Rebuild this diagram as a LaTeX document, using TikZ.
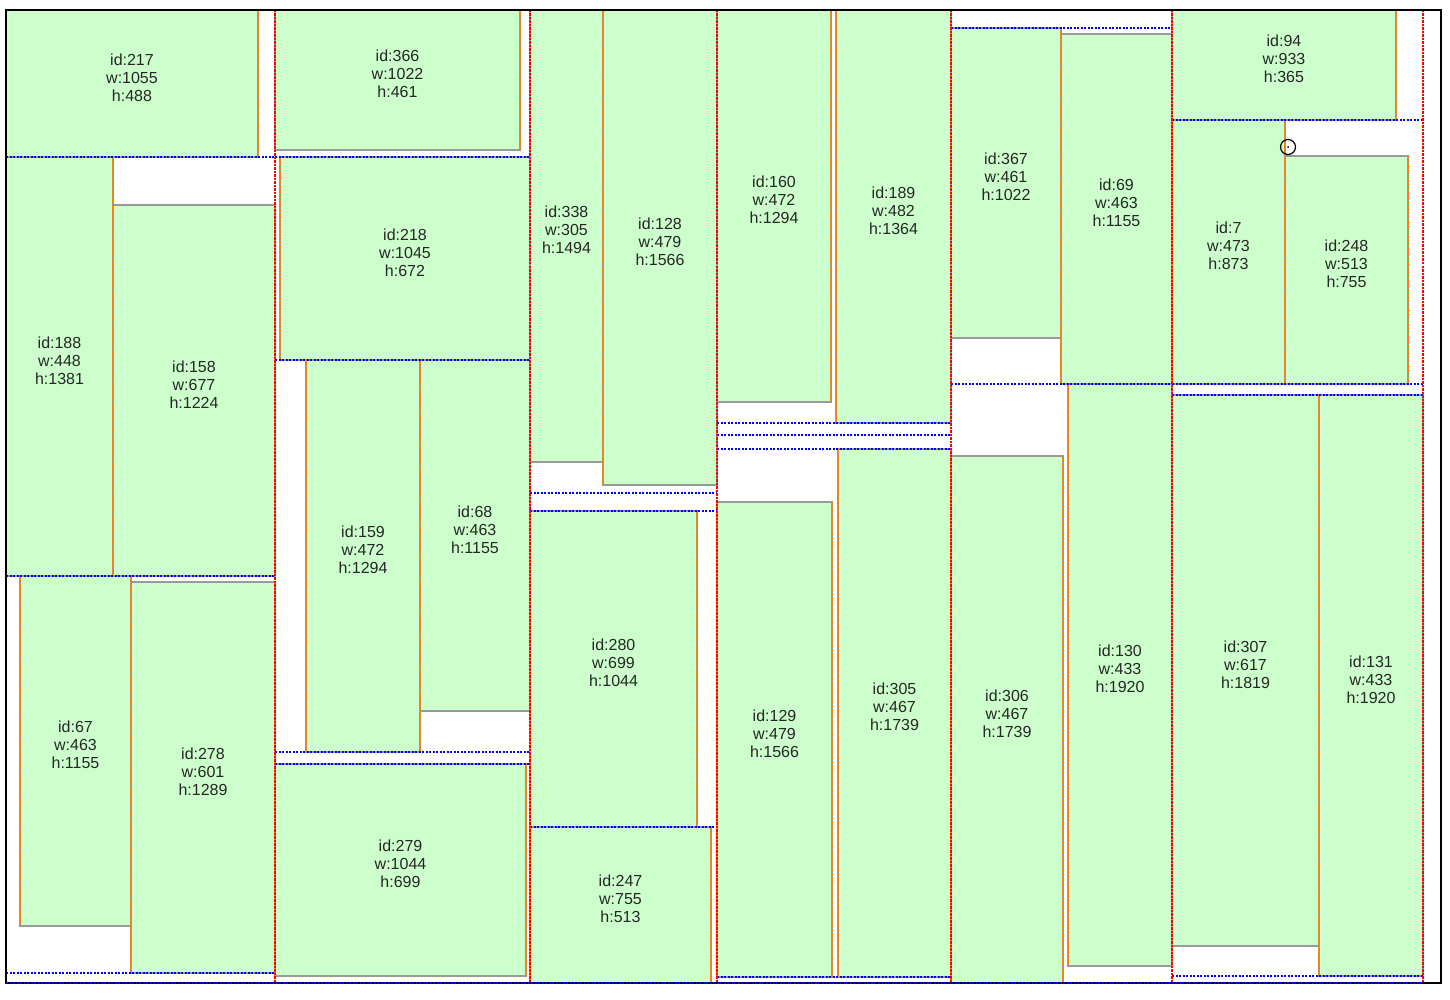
\documentclass[tikz,border=0pt]{standalone}
\usepackage{fontspec}
\setmainfont{Liberation Sans}
\definecolor{piecegreen}{RGB}{204,255,204}

\begin{document}
\begin{tikzpicture}[x=1pt, y=-1pt,
    piece/.style={fill=piecegreen, draw=black!40, line width=2pt},
    side/.style={draw=orange, line width=1.4pt, dash pattern=on 2.5pt off 1pt},
    cut/.style={draw=blue, line width=2.4pt, dash pattern=on 2pt off 1.5pt},
    strip/.style={draw=red, line width=1.8pt, dash pattern=on 2.5pt off 1pt},
    tag/.style={font=\fontsize{16}{18}\selectfont, align=center, text=black!85}]
    \useasboundingbox (0,0) rectangle (1450,1000);
    \fill[white] (0,0) rectangle (1450,1000);

    % Pieces
    \foreach \xa/\ya/\xb/\yb/\n/\w/\h in {
        6/10/258/157/217/1055/488, 6/157/113/576/188/448/1381,
        113/205/275/576/158/677/1224, 20/576/131/926/67/463/1155,
        131/582/275/973/278/601/1289,
        275/10/520/150/366/1022/461, 280/157/530/360/218/1045/672,
        306/360/420/752/159/472/1294, 420/360/530/711/68/463/1155,
        275/764/526/976/279/1044/699,
        530/10/603/462/338/305/1494, 603/10/717/485/128/479/1566,
        530/511/697/827/280/699/1044, 530/827/711/983/247/755/513,
        717/10/831/402/160/472/1294, 836/10/951/423/189/482/1364,
        717/502/832/977/129/479/1566, 838/449/951/977/305/467/1739,
        951/28/1061/338/367/461/1022, 1061/34/1172/384/69/463/1155,
        951/456/1063/983/306/467/1739, 1068/384/1172/966/130/433/1920,
        1172/10/1396/120/94/933/365, 1172/120/1285/384/7/473/873,
        1285/156/1408/384/248/513/755, 1172/395/1319/946/307/617/1819,
        1319/395/1423/976/131/433/1920}{
        \draw[piece] (\xa,\ya) rectangle (\xb,\yb);
        \draw[side] (\xa,\ya) -- (\xa,\yb) (\xb,\ya) -- (\xb,\yb);
        \node[tag] (p\n) at ({(\xa+\xb)/2},{(\ya+\yb)/2-6}) {id:\n\\w:\w\\h:\h};
    }

    % Cuts
    \foreach \xa/\xb/\y in {6/275/157, 6/275/576, 6/275/973,
        275/530/157, 275/530/360, 275/530/752, 275/530/764,
        530/717/493, 530/717/511, 530/717/827,
        717/951/423, 717/951/435, 717/951/449, 717/951/977,
        951/1172/28, 951/1172/384,
        1172/1423/120, 1172/1423/384, 1172/1423/395, 1172/1423/976}
        \draw[cut] (\xa,\y) -- (\xb,\y);

    % Strips
    \foreach \x in {275,530,717,951,1172,1423}
        \draw[strip] (\x,10) -- (\x,983);

    % Border
    \draw[black, line width=2.5pt] (6,983) -- (6,10) -- (1441,10) -- (1441,983) -- cycle;
    \draw[cut, line width=2.5pt] (6,983) -- (1423,983);

    % Marker
    \node[draw, circle, line width=1.2pt, minimum size=15pt, inner sep=0pt] (probe) at (1288,147) {};
    \fill (probe.center) circle[radius=1pt];
\end{tikzpicture}
\end{document}
